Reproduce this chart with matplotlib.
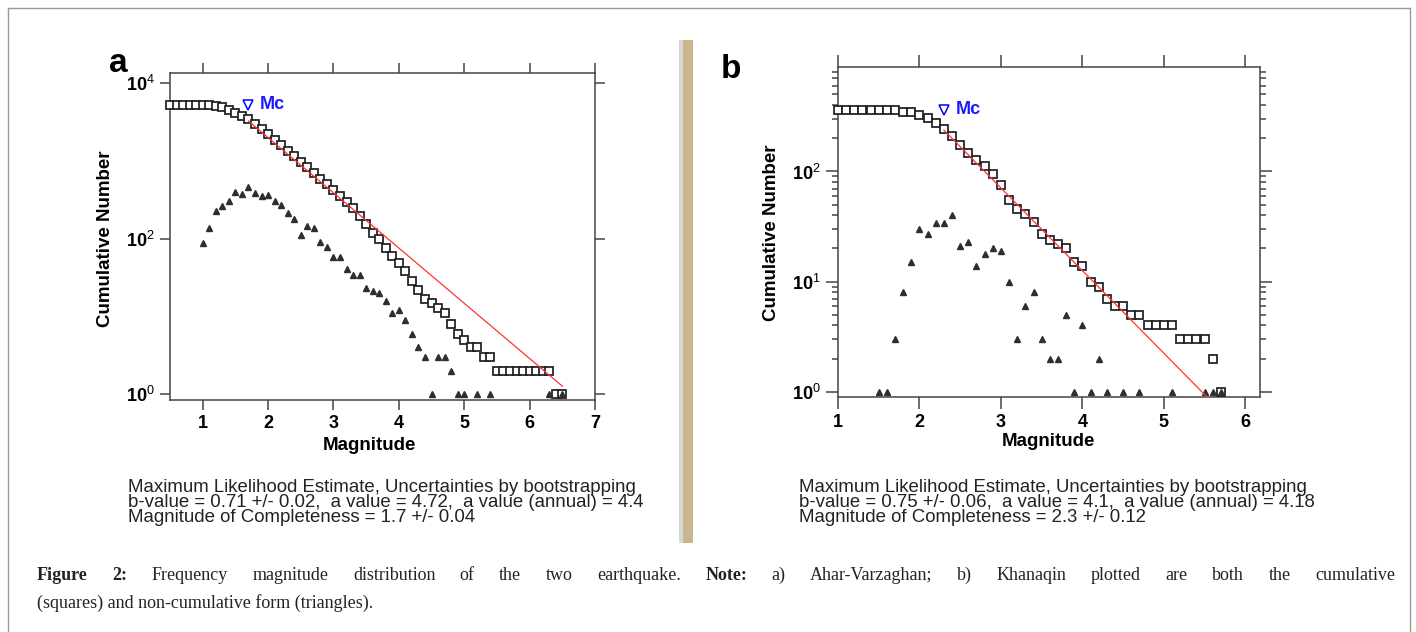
import numpy as np
import matplotlib
matplotlib.use("Agg")
import matplotlib.pyplot as plt
from matplotlib.patches import Rectangle
from matplotlib.lines import Line2D
from matplotlib.ticker import NullLocator, FixedLocator

W, H = 1416, 632

# ---- panel a: Ahar-Varzaghan ----
mag_a0 = 0.5
cum_a = [5250, 5250, 5250, 5250, 5250, 5250, 5250,
         5130, 4900, 4570, 4170, 3800,
         3470, 3020, 2570, 2190, 1860,
         1580, 1350, 1150, 977, 832,
         692, 589, 501, 417, 355,
         295, 245, 195, 155, 120,
         98, 76, 60, 49, 39,
         29, 22, 17, 15, 13,
         11, 8, 6, 5, 4,
         4, 3, 3, 2, 2,
         2, 2, 2, 2, 2,
         2, 2, 1, 1]
tri_mag_a = [1.0, 1.1, 1.2, 1.3, 1.4, 1.5, 1.6, 1.7, 1.8, 1.9, 2.0, 2.1, 2.2, 2.3, 2.4,
             2.5, 2.6, 2.7, 2.8, 2.9, 3.0, 3.1, 3.2, 3.3, 3.4, 3.5, 3.6, 3.7, 3.8, 3.9,
             4.0, 4.1, 4.2, 4.3, 4.4, 4.5, 4.6, 4.7, 4.8, 4.9, 5.0, 5.2, 5.4, 6.3, 6.5]
tri_n_a = [88, 137, 224, 265, 308, 398, 380, 457, 389, 355, 363, 309, 275, 214, 181,
           110, 147, 137, 91, 79, 58, 58, 41, 34, 34, 23, 21, 20, 16, 11,
           12, 9, 6, 4, 3, 1, 3, 3, 2, 1, 1, 1, 1, 1, 1]
mc_a, a_a, b_a = 1.7, 4.72, 0.71

# ---- panel b: Khanaqin ----
mag_b0 = 1.0
cum_b = [363, 363, 363, 363, 363, 363, 363, 363,
         347, 343, 326, 303, 274, 241, 208, 174, 148, 127,
         112, 95, 75, 55, 46, 41, 35, 27, 24, 22,
         20, 15, 14, 10, 9, 7, 6, 6, 5, 5,
         4, 4, 4, 4, 3, 3, 3, 3, 2, 1]
tri_mag_b = [1.5, 1.6, 1.7, 1.8, 1.9, 2.0, 2.1, 2.2, 2.3, 2.4, 2.5, 2.6, 2.7, 2.8, 2.9,
             3.0, 3.1, 3.2, 3.3, 3.4, 3.5, 3.6, 3.7, 3.8, 3.9, 4.0, 4.1, 4.2, 4.3, 4.5,
             4.7, 5.1, 5.5, 5.6, 5.7]
tri_n_b = [1, 1, 3, 8, 15, 30, 27, 34, 34, 40, 21, 23, 14, 18, 20,
           19, 10, 3, 6, 8, 3, 2, 2, 5, 1, 4, 1, 2, 1, 1,
           1, 1, 1, 1, 1]
mc_b, a_b, b_b = 2.3, 4.1, 0.75

stats_a = ["Maximum Likelihood Estimate, Uncertainties by bootstrapping",
           "b-value = 0.71 +/- 0.02,  a value = 4.72,  a value (annual) = 4.4",
           "Magnitude of Completeness = 1.7 +/- 0.04"]
stats_b = ["Maximum Likelihood Estimate, Uncertainties by bootstrapping",
           "b-value = 0.75 +/- 0.06,  a value = 4.1,  a value (annual) = 4.18",
           "Magnitude of Completeness = 2.3 +/- 0.12"]
caption1 = [("Figure", "bold"), ("2:", "bold"), ("Frequency", "normal"), ("magnitude", "normal"),
            ("distribution", "normal"), ("of", "normal"), ("the", "normal"), ("two", "normal"),
            ("earthquake.", "normal"), ("Note:", "bold"), ("a)", "normal"), ("Ahar-Varzaghan;", "normal"),
            ("b)", "normal"), ("Khanaqin", "normal"), ("plotted", "normal"), ("are", "normal"),
            ("both", "normal"), ("the", "normal"), ("cumulative", "normal")]
caption2 = "(squares) and non-cumulative form (triangles)."

plt.rcParams['font.family'] = ['Liberation Sans', 'DejaVu Sans']
plt.rcParams['mathtext.fontset'] = 'custom'
plt.rcParams['mathtext.rm'] = 'Liberation Sans'
plt.rcParams['mathtext.bf'] = 'Liberation Sans:bold'

SPINE = '#444444'


def fx(x):
    return x / W


def fy(y):
    return 1 - y / H


fig = plt.figure(figsize=(W / 100, H / 100), dpi=100)


def panel(box, mag0, cum, tmag, tn, mc, a, b, xlim, ylim, yticks, ylabels, minor, majlen):
    left, top, right, bottom = box
    ax = fig.add_axes([fx(left), fy(bottom), (right - left) / W, (bottom - top) / H])
    ax.set_yscale('log')
    mags = np.round(mag0 + 0.1 * np.arange(len(cum)), 1)
    ax.plot(mags, cum, 's', mfc='white', mec='#1e1e1e', ms=6.3, mew=1.25,
            clip_on=False, zorder=3)
    ax.plot(tmag, tn, '^', color='#2e2e2e', ms=4.4, clip_on=False, zorder=4)
    mfit = np.array([mc, mags[-1]])
    ax.plot(mfit, 10 ** (a - b * mfit), color='#ff3333', lw=0.9, zorder=5)
    ax.plot([mc], [max(cum)], 'v', mfc='none', mec='blue', ms=7.5, mew=1.1, zorder=6)
    ax.text(mc + 0.18 * (xlim[1] - xlim[0]) / 6.5, max(cum), 'Mc', color='#1a1aff',
            fontweight='bold', fontsize=13, va='center', ha='left')
    ax.set_xlim(*xlim)
    ax.set_ylim(*ylim)
    ax.set_xticks(range(int(np.ceil(xlim[0])), int(xlim[1]) + 1))
    ax.yaxis.set_major_locator(FixedLocator(yticks))
    ax.set_yticklabels(ylabels)
    if minor:
        ax.yaxis.set_minor_locator(FixedLocator(minor))
    else:
        ax.yaxis.set_minor_locator(NullLocator())
    ax.xaxis.set_minor_locator(NullLocator())
    ax.tick_params(which='both', direction='out', top=True, right=True,
                   color=SPINE, width=1.1, labelsize=13)
    ax.tick_params(which='major', length=majlen)
    ax.tick_params(which='minor', length=majlen * 0.55)
    ax.tick_params(axis='x', pad=4)
    ax.tick_params(axis='y', pad=4)
    for lab in ax.get_xticklabels():
        lab.set_fontweight('bold')
    for s in ax.spines.values():
        s.set_color(SPINE)
        s.set_linewidth(1.1)
    return ax


labels_a = [r'$\mathbf{10}^{0}$', r'$\mathbf{10}^{2}$', r'$\mathbf{10}^{4}$']
ax_a = panel((170, 73, 595, 400), mag_a0, cum_a, tri_mag_a, tri_n_a, mc_a, a_a, b_a,
             (0.5, 7.0), (10 ** -0.073, 10 ** 4.13), [1, 100, 10000], labels_a, None, 7)

minor_b = [m * 10 ** e for e in range(0, 3) for m in range(2, 10)]
labels_b = [r'$\mathbf{10}^{0}$', r'$\mathbf{10}^{1}$', r'$\mathbf{10}^{2}$']
ax_b = panel((838, 67, 1260, 397), mag_b0, cum_b, tri_mag_b, tri_n_b, mc_b, a_b, b_b,
             (1.0, 6.18), (10 ** -0.047, 10 ** 2.948), [1, 10, 100], labels_b, minor_b, 8.5)

# axis labels and panel letters
for x, y, s in [(369, 445, 'Magnitude'), (1048, 442, 'Magnitude')]:
    fig.text(fx(x), fy(y), s, fontsize=13.5, fontweight='bold', ha='center', va='center')
for x, y in [(106, 239), (772, 233)]:
    fig.text(fx(x), fy(y), 'Cumulative Number', fontsize=13.5, fontweight='bold',
             ha='center', va='center', rotation=90)
fig.text(fx(118), fy(63), 'a', fontsize=24, fontweight='bold', ha='center', va='center')
fig.text(fx(731), fy(69), 'b', fontsize=24, fontweight='bold', ha='center', va='center')

# statistics text under each panel
for x0, lines in [(128, stats_a), (799, stats_b)]:
    for i, s in enumerate(lines):
        fig.text(fx(x0), fy(487 + 15.3 * i), s, fontsize=13.4,
                 color='#222222', ha='left', va='center')

# divider bar
fig.patches.append(Rectangle((fx(679), fy(543)), 4 / W, 503 / H, transform=fig.transFigure,
                             color='#d6d6d6', lw=0))
fig.patches.append(Rectangle((fx(683), fy(543)), 10 / W, 503 / H, transform=fig.transFigure,
                             color='#c8b78c', lw=0))

# outer frame
for xs, ys in [((8, 8), (8, 632)), ((8, 1410), (8, 8)), ((1410, 1410), (8, 632))]:
    fig.lines.append(Line2D([fx(v) for v in xs], [fy(v) for v in ys], transform=fig.transFigure,
                            color='#9a9a9a', lw=1))

# caption, first line justified
renderer = fig.canvas.get_renderer()
words = [fig.text(0, fy(575), w, family='Liberation Serif', fontsize=13, fontweight=wt,
                  color='#222222', ha='left', va='center') for w, wt in caption1]
widths = [t.get_window_extent(renderer).width for t in words]
gap = (1395 - 37 - sum(widths)) / (len(words) - 1)
xpos = 37
for t, wd in zip(words, widths):
    t.set_x(fx(xpos))
    xpos += wd + gap
fig.text(fx(37), fy(603), caption2, family='Liberation Serif', fontsize=13,
         color='#222222', ha='left', va='center')

fig.savefig('out.png', dpi=100)
